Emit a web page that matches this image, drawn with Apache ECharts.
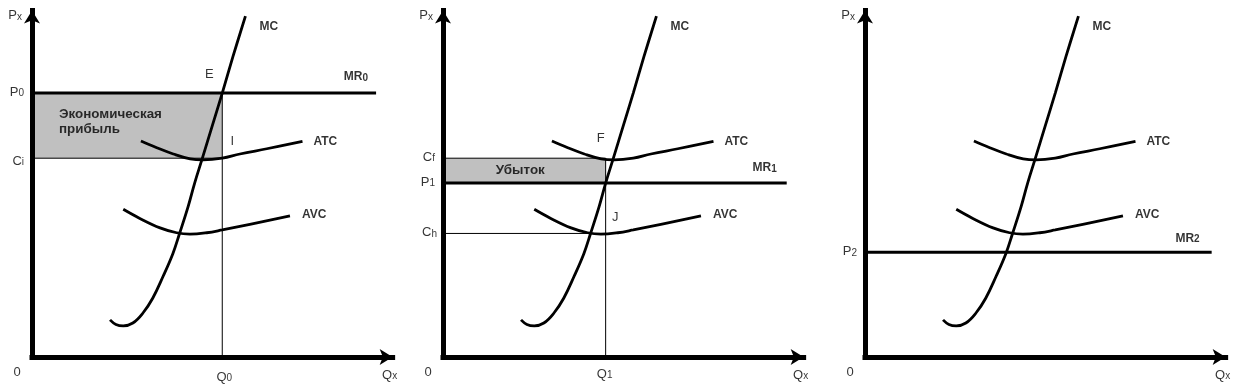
<!DOCTYPE html>
<html><head><meta charset="utf-8">
<script src="https://cdn.jsdelivr.net/npm/echarts@6/dist/echarts.min.js"></script>
<style>html,body{margin:0;padding:0;background:#fff}#c{width:1240px;height:391px}</style>
</head><body><div id="c"></div>
<script>
// Axis extents (arbitrary units)
const xMax = 98, yMax = 99;
// Cost curves (identical in all three panels)
const mcCurve = [[21.2,10.6],[22.8,9.3],[24.8,8.9],[27.4,9.7],[30.1,12.5],[32.8,16.8],[35.6,23.0],[38.3,29.6],[40.1,35.3],[42.4,42.9],[44.2,49.7],[46.3,56.8],[49.0,66.1],[51.7,75.4],[54.6,85.8],[58.0,97.4]];
const atcCurve = [[29.6,61.7],[33.9,59.8],[38.4,58.0],[43.0,56.6],[46.5,56.3],[51.7,56.8],[56.5,58.0],[63.8,59.5],[73.5,61.6]];
const avcCurve = [[24.8,42.2],[29.3,39.6],[34.8,36.9],[39.3,35.5],[42.9,35.1],[47.5,35.5],[51.7,36.3],[59.2,37.9],[70.1,40.3]];
// Market price (MR) per panel and line end
const mrLevels = [75.4, 49.7, 29.9];
const mrEnds = [93.5, 93.4, 94.2];
// Equilibrium quantities (panels 1, 2)
const qLevels = [51.7, 44.2];
// ATC at chosen quantity (Ci, Cf) and AVC at Q1 (Ch)
const atcAtQ = [56.8, 56.8];
const avcAtQ1 = 35.3;
// Texts
const curveNames = ['MC', 'ATC', 'AVC'];
const mrNames = [['MR','0'], ['MR','1'], ['MR','2']];
const priceNames = [['P','0'], ['P','1'], ['P','2']];
const qNames = [['Q','0'], ['Q','1']];
const costNames = [['C','i'], ['C','f'], ['C','h']];
const pointNames = [['E','I'], ['F','J']];
const areaTexts = ['Экономическая\nприбыль', 'Убыток'];
const axisNames = [['P','x'], ['Q','x'], '0'];

const FONT = '"Liberation Sans", Arial, sans-serif';
const gridLefts = [32, 443, 865];
const UX = 3.68, UY = 3.5;
const sub = (p) => '{m|' + p[0] + '}{s|' + p[1] + '}';
const rich = {
  m: {fontSize: 13, fontFamily: FONT, color: '#000', verticalAlign: 'bottom'},
  s: {fontSize: 10, fontFamily: FONT, color: '#000', verticalAlign: 'bottom'}
};
const richB = {
  m: {fontSize: 12, fontFamily: FONT, color: '#000', fontWeight: 'bold', verticalAlign: 'bottom'},
  s: {fontSize: 10, fontFamily: FONT, color: '#000', fontWeight: 'bold', verticalAlign: 'bottom'}
};
function lbl(x, y, text, dx, dy, align, opts) {
  opts = opts || {};
  return {
    value: [x, y],
    label: Object.assign({
      show: true, formatter: text, position: [dx, dy], align: align || 'center',
      verticalAlign: opts.va || 'middle', fontSize: opts.size || 13, fontFamily: FONT, color: '#000',
      fontWeight: opts.bold ? 'bold' : 'normal', rich: opts.bold ? richB : rich
    }, opts.extra || {})
  };
}
const last = (a) => a[a.length - 1];

const grids = [], xAxes = [], yAxes = [], series = [];
for (let i = 0; i < 3; i++) {
  grids.push({left: gridLefts[i], top: 357 - yMax * UY, width: xMax * UX, height: yMax * UY});
  const axisLine = {show: true, onZero: false, symbol: ['none', 'arrow'], symbolSize: [12, 13],
    lineStyle: {color: '#000', width: 5, cap: 'square'}};
  xAxes.push({gridIndex: i, type: 'value', min: 0, max: xMax, z: 5, axisLine: axisLine,
    axisTick: {show: false}, axisLabel: {show: false}, splitLine: {show: false}});
  yAxes.push({gridIndex: i, type: 'value', min: 0, max: yMax, z: 5, axisLine: axisLine,
    axisTick: {show: false}, axisLabel: {show: false}, splitLine: {show: false}});
  const base = {xAxisIndex: i, yAxisIndex: i, symbol: 'none', silent: true};
  const P = mrLevels[i];
  const mr = Object.assign({type: 'line', data: [[0, P], [mrEnds[i], P]],
    lineStyle: {color: '#000', width: 3}, z: 3}, base);
  if (i === 0) {
    mr.markArea = {silent: true, itemStyle: {color: '#c0c0c0'},
      data: [[{coord: [0, atcAtQ[0]]}, {coord: [qLevels[0], P]}]]};
  } else if (i === 1) {
    mr.markArea = {silent: true, itemStyle: {color: '#c0c0c0'},
      data: [[{coord: [0, P]}, {coord: [qLevels[1], atcAtQ[1]]}]]};
  }
  series.push(mr);
  const thin = (d) => Object.assign({type: 'line', data: d, lineStyle: {color: '#000', width: 1}, z: 2}, base);
  if (i === 0) {
    series.push(thin([[qLevels[0], P], [qLevels[0], 0]]));
    series.push(thin([[0, atcAtQ[0]], [qLevels[0], atcAtQ[0]]]));
  } else if (i === 1) {
    series.push(thin([[qLevels[1], atcAtQ[1]], [qLevels[1], 0]]));
    series.push(thin([[0, atcAtQ[1]], [qLevels[1], atcAtQ[1]]]));
    series.push(thin([[0, avcAtQ1], [qLevels[1], avcAtQ1]]));
  }
  [mcCurve, atcCurve, avcCurve].forEach(function (c) {
    series.push(Object.assign({type: 'line', data: c, smooth: 0.4,
      lineStyle: {color: '#000', width: 2.8}, z: 4}, base));
  });
  // labels
  const L = [];
  L.push(lbl(0, yMax, sub(axisNames[0]), -10, 5, 'right'));
  L.push(lbl(0, 0, axisNames[2], -15, 15, 'center'));
  L.push(lbl(xMax, 0, sub(axisNames[1]), -3, 18, 'center'));
  L.push(lbl(last(mcCurve)[0], last(mcCurve)[1], curveNames[0], 14, 11, 'left', {bold: true, size: 12}));
  L.push(lbl(last(atcCurve)[0], last(atcCurve)[1], curveNames[1], 11, 0, 'left', {bold: true, size: 12}));
  L.push(lbl(last(avcCurve)[0], last(avcCurve)[1], curveNames[2], 12, -1, 'left', {bold: true, size: 12}));
  L.push(lbl(0, P, sub(priceNames[i]), -8, -1, 'right'));
  if (i === 0) {
    L.push(lbl(mrEnds[i], P, sub(mrNames[i]), -8, -16, 'right', {bold: true}));
    L.push(lbl(0, atcAtQ[0], sub(costNames[0]), -8, 3, 'right'));
    L.push(lbl(qLevels[0], 0, sub(qNames[0]), 2, 20, 'center'));
    L.push(lbl(qLevels[0], P, pointNames[0][0], -13, -19, 'center'));
    L.push(lbl(qLevels[0], atcAtQ[0], pointNames[0][1], 10, -17, 'center'));
    L.push(lbl(0, P, areaTexts[0], 27, 13.5, 'left', {bold: true, size: 13.4, va: 'top', extra: {lineHeight: 15}}));
  } else if (i === 1) {
    L.push(lbl(mrEnds[i], P, sub(mrNames[i]), -10, -15, 'right', {bold: true}));
    L.push(lbl(0, atcAtQ[1], sub(costNames[1]), -8, -1, 'right'));
    L.push(lbl(0, avcAtQ1, sub(costNames[2]), -6, -1, 'right'));
    L.push(lbl(qLevels[1], 0, sub(qNames[1]), -1, 17, 'center'));
    L.push(lbl(qLevels[1], atcAtQ[1], pointNames[1][0], -5, -20, 'center'));
    L.push(lbl(qLevels[1], avcAtQ1, pointNames[1][1], 9.5, -16, 'center'));
    L.push(lbl(qLevels[1] / 2, (atcAtQ[1] + P) / 2, areaTexts[1], -4, 0, 'center', {bold: true, size: 13.4}));
  } else {
    L.push(lbl(mrEnds[i], P, sub(mrNames[i]), -12, -14, 'right', {bold: true}));
  }
  series.push({type: 'scatter', xAxisIndex: i, yAxisIndex: i, symbolSize: 0, silent: true,
    clip: false, itemStyle: {color: 'rgba(0,0,0,0)'}, data: L, z: 6});
}

const chart = echarts.init(document.getElementById('c'), null, {renderer: 'canvas'});
chart.setOption({animation: false, backgroundColor: '#fff', grid: grids, xAxis: xAxes, yAxis: yAxes, series: series});
</script>
</body></html>
